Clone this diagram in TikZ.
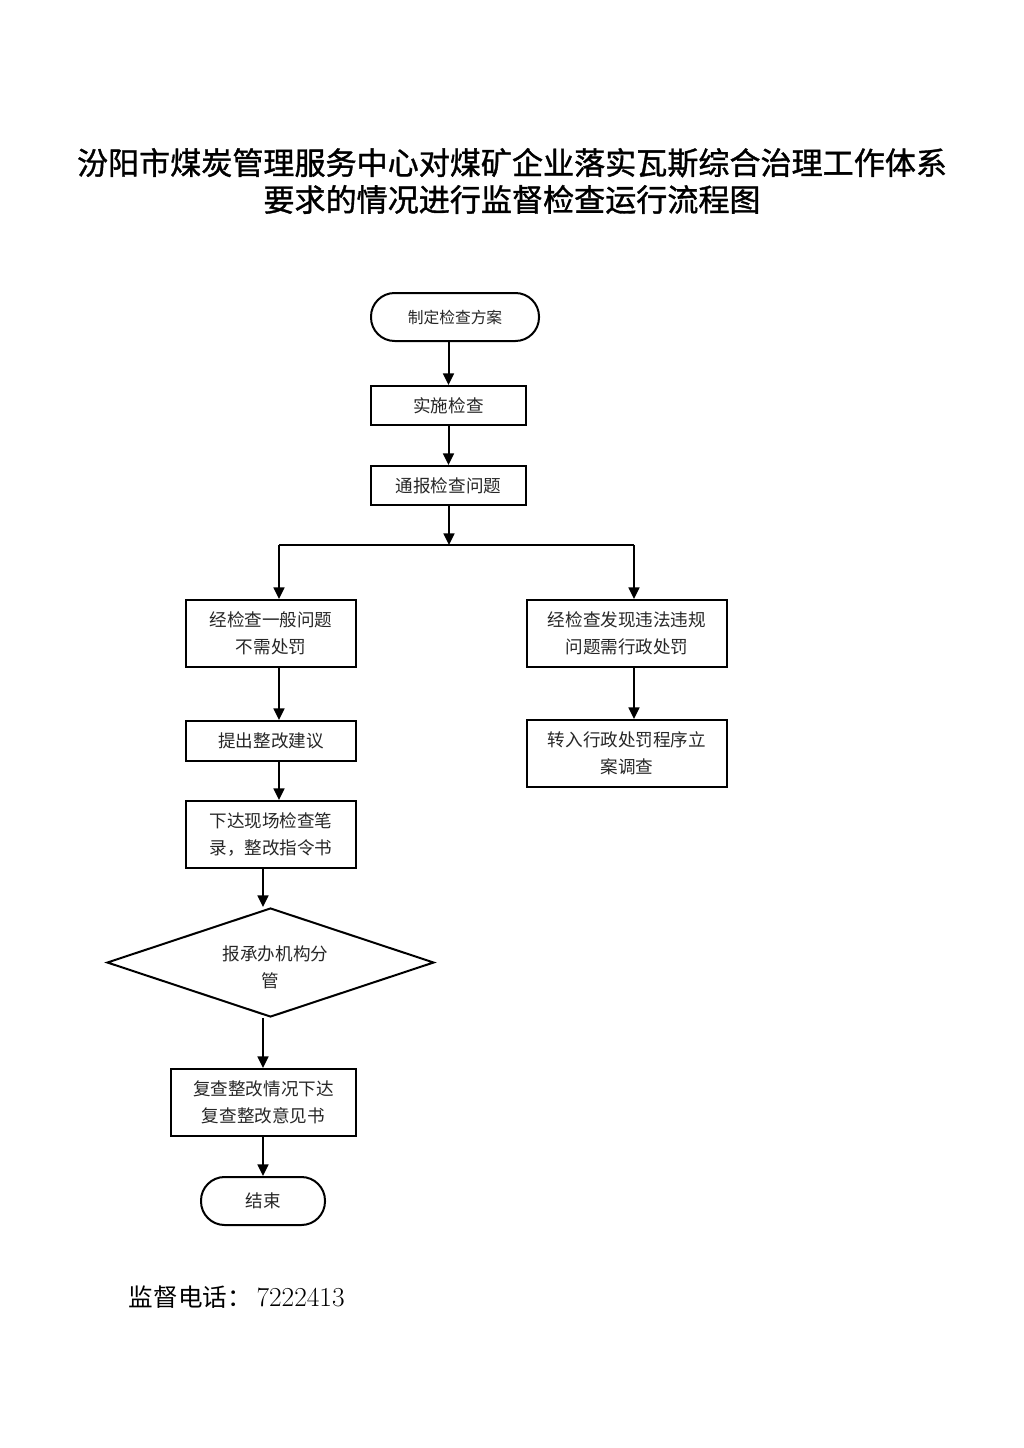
\documentclass[tikz,border=0pt]{standalone}
\usepackage{fontspec}
\newfontfamily\cjk{Noto Sans CJK SC}
\newfontfamily\cjktitle[FakeBold=1.2]{Noto Sans CJK SC}
\usetikzlibrary{shapes.geometric,arrows.meta}
\tikzset{
    startstop/.style = {rectangle, rounded corners=5.9mm, minimum height=12mm, inner sep=0pt, text centered, draw=black, line width=0.5mm, text=black!85, font=\cjk\fontsize{12.5}{19}\selectfont},
    process/.style = {rectangle, minimum height=10mm, inner sep=0pt, align=center, draw=black, line width=0.5mm, text=black!85, font=\cjk\fontsize{12.5}{19}\selectfont},
    decision/.style = {diamond, aspect=3, inner sep=0pt, minimum width=81.75mm, minimum height=27.25mm, align=center, draw=black, line width=0.5mm, text=black!85, font=\cjk\fontsize{12.5}{19}\selectfont},
    arrow/.style = {line width=0.5mm, -{Triangle[length=2.9mm,width=2.7mm]}}
}
\begin{document}
\begin{tikzpicture}[x=0.25mm, y=-0.25mm]
\useasboundingbox (0,0) rectangle (1024,1448);
% title
\node (title) at (512,181) [align=center, font=\cjktitle\fontsize{22.1}{26.2}\selectfont] {汾阳市煤炭管理服务中心对煤矿企业落实瓦斯综合治理工作体系\\要求的情况进行监督检查运行流程图};

\node (start) at (455,317) [startstop, minimum width=42mm, font=\cjk\fontsize{11.2}{19}\selectfont] {制定检查方案};
\node (do) at (448.5,405.5) [process, minimum width=38.75mm, minimum height=9.75mm] {实施检查};
\node (notify) at (448.5,485.5) [process, minimum width=38.75mm, minimum height=9.75mm] {通报检查问题};
\coordinate (split) at (449,545);
\coordinate (lturn) at (279,545);
\coordinate (rturn) at (634,545);
\coordinate (mx) at (263,0);

% left branch
\node (general) at (271,633.5) [process, minimum width=42.5mm, minimum height=16.75mm] {经检查一般问题\\不需处罚};
\node (advise) at (271,741) [process, minimum width=42.5mm] {提出整改建议};
\node (record) at (271,834.5) [process, minimum width=42.5mm, minimum height=16.75mm] {下达现场检查笔\\录，整改指令书};
\node (assign) at (270.5,962.5) [decision] {\raisebox{-2.6mm}[0pt][0pt]{\begin{tabular}{@{}c@{}}\hspace{2.5mm}报承办机构分\\管\end{tabular}}};
\node (recheck) at (263.5,1102.5) [process, minimum width=46.25mm, minimum height=16.75mm] {复查整改情况下达\\复查整改意见书};
\node (end) at (263,1201) [startstop, minimum width=31mm] {结束};

% right branch
\node (illegal) at (627,633.5) [process, minimum width=50mm, minimum height=16.75mm] {经检查发现违法违规\\问题需行政处罚};
\node (transfer) at (627,753.5) [process, minimum width=50mm, minimum height=16.75mm] {转入行政处罚程序立\\案调查};

% footer
\node (phone) at (124,1297) [anchor=west, font=\fontsize{19.5}{22}\selectfont] {{\cjk\fontsize{17.5}{22}\selectfont 监督电话：}\,7222413};

\draw [arrow] (do.north |- start.south) -- (do.north);
\draw [arrow] (do) -- (notify);
\draw [arrow] (notify.south -| split) -- (split);
\draw [line width=0.5mm] (lturn) -- (rturn);
\draw [arrow] (lturn) -- (general.north -| lturn);
\draw [arrow] (rturn) -- (illegal.north -| rturn);
\draw [arrow] (general.south -| lturn) -- (advise.north -| lturn);
\draw [arrow] (advise.south -| lturn) -- (record.north -| lturn);
\draw [arrow] (record.south -| mx) -- (assign.north -| mx);
\draw [arrow] (assign.south -| mx) -- (recheck.north -| mx);
\draw [arrow] (recheck.south -| mx) -- (end.north -| mx);
\draw [arrow] (illegal.south -| rturn) -- (transfer.north -| rturn);
\end{tikzpicture}
\end{document}
